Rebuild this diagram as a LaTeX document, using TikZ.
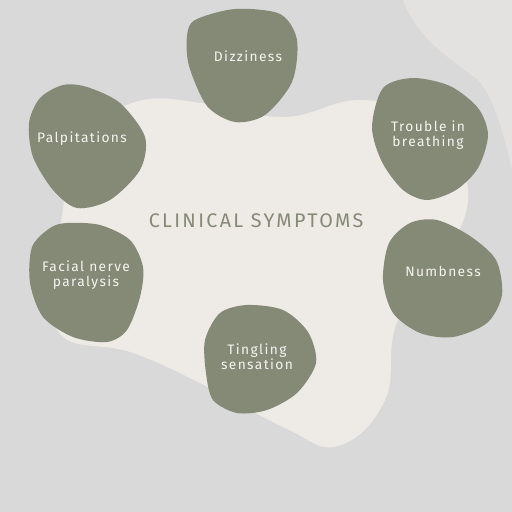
\documentclass[tikz,border=0pt]{standalone}
\usepackage{fontspec}
\setmainfont{Fira Sans}
\usepackage{tikz}
\usetikzlibrary{calc}
\definecolor{bggray}{HTML}{D9D9D9}
\definecolor{sand}{HTML}{EEEAE6}
\definecolor{paler}{HTML}{E4E2E1}
\definecolor{sage}{HTML}{858A76}
\definecolor{chalk}{HTML}{F6F4F0}

\begin{document}
\begin{tikzpicture}[x=0.025cm, y=-0.025cm,
  blob/.style={fill=sage},
  symptom/.style={text=chalk, align=center, inner sep=0pt,
    font=\fontsize{9.8}{10.6}\selectfont\addfontfeature{LetterSpace=10}},
  title node/.style={text=sage, inner sep=0pt,
    font=\fontsize{14}{16}\selectfont\addfontfeature{LetterSpace=12}}]
\useasboundingbox (0,0) rectangle (512,512);
\fill[bggray] (0,0) rectangle (512,512);
% pale corner and sand backdrop
\fill[paler] (403,0) .. controls (418,40) and (450,58) .. (478,80)
  .. controls (496,100) and (505,140) .. (512,170) -- (512,0) -- cycle;
\fill[sand] plot[smooth cycle, tension=0.7] coordinates {(62,215) (78,145) (135,102) (210,104)
  (285,117) (362,100) (432,122) (467,182) (452,245) (398,320) (385,400) (338,446)
  (285,428) (200,383) (130,352) (62,336) (55,280)};
% blobs
\fill[blob] plot[smooth cycle] coordinates {(195,20) (235,9) (280,14) (297,40) (292,82)
  (265,115) (235,122) (207,106) (189,66) (187,36)};
\fill[blob] plot[smooth cycle] coordinates {(383,88) (413,78) (450,86) (478,108) (488,135)
  (478,168) (456,190) (427,200) (403,190) (382,162) (372,127)};
\fill[blob] plot[smooth cycle] coordinates {(40,98) (63,85) (87,87) (120,103) (145,137)
  (140,170) (110,200) (77,208) (53,190) (33,157) (29,123)};
\fill[blob] plot[smooth cycle] coordinates {(50,228) (67,223) (100,225) (130,240) (143,267)
  (140,297) (127,330) (107,342) (73,337) (43,317) (30,283) (32,247)};
\fill[blob] plot[smooth cycle] coordinates {(410,223) (437,220) (470,236) (496,260) (502,295)
  (487,323) (453,337) (420,333) (393,313) (383,280) (389,243)};
\fill[blob] plot[smooth cycle] coordinates {(220,313) (247,305) (283,310) (308,332) (316,363)
  (297,393) (267,410) (237,413) (213,400) (206,373) (205,340)};
% labels
\node[title node] (title) at (256,221) {CLINICAL SYMPTOMS};
\node[symptom] (dizzy) at (248,56) {Dizziness};
\node[symptom] (breath) at (428,135) {Trouble in\\breathing};
\node[symptom] (palp) at (82,139) {Palpitations};
\node[symptom] (facial) at (86,275) {Facial nerve\\paralysis};
\node[symptom] (numb) at (443,271) {Numbness};
\node[symptom] (tingle) at (257,357) {Tingling\\sensation};
\end{tikzpicture}
\end{document}
